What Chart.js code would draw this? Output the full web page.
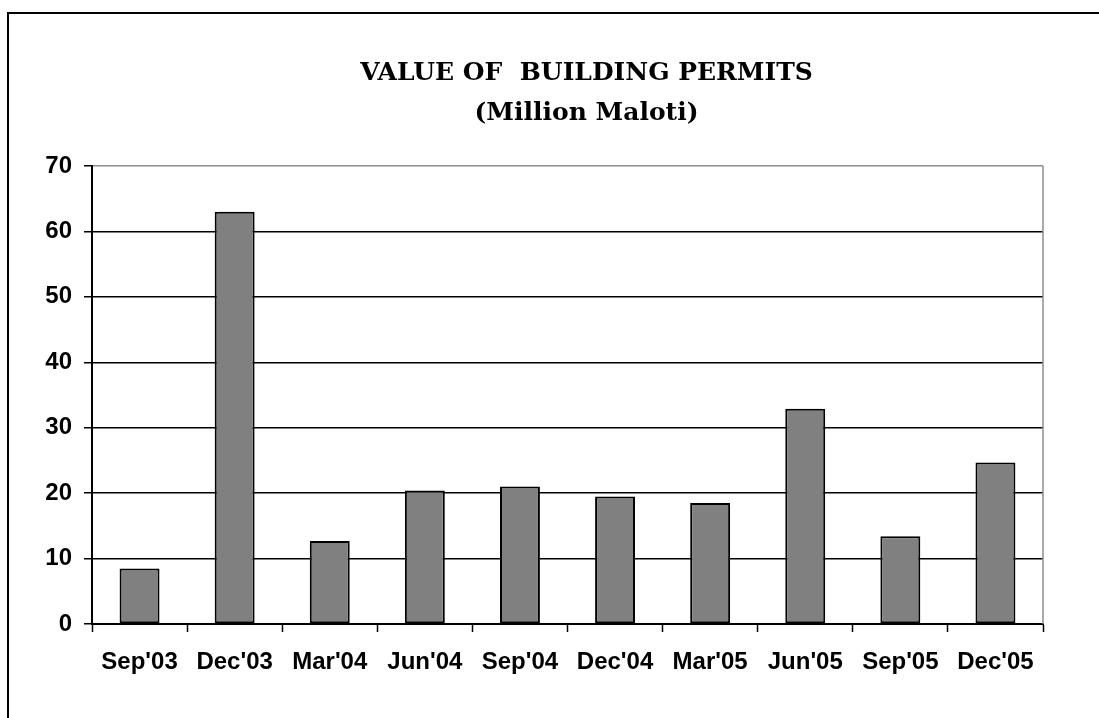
<!DOCTYPE html>
<html>
<head>
<meta charset="utf-8">
<script src="https://cdn.jsdelivr.net/npm/chart.js@4/dist/chart.umd.min.js"></script>
<style>
  html, body { margin: 0; padding: 0; background: #fff; overflow: hidden; }
  #frame {
    position: absolute; left: 7px; top: 12px; width: 1200px; height: 800px;
    border-left: 2px solid #000; border-top: 2px solid #000;
  }
  #wrap { position: absolute; left: 0; top: 0; width: 1099px; height: 718px; }
</style>
</head>
<body>
<div id="frame"></div>
<div id="wrap"><canvas id="permitsChart"></canvas></div>
<script>
// quarterly value of building permits, million maloti
const quarters = ["Sep'03", "Dec'03", "Mar'04", "Jun'04", "Sep'04", "Dec'04", "Mar'05", "Jun'05", "Sep'05", "Dec'05"];
const permitValues = [8.5, 63.0, 12.7, 20.4, 21.0, 19.5, 18.5, 32.9, 13.4, 24.7];
const titleLines = ["VALUE OF  BUILDING PERMITS", "(Million Maloti)"];
const yMin = 0;
const yMax = 70;
const yStep = 10;

// title sits a little right of the plot centre, so it is drawn by hand
const chartTitle = {
  id: "chartTitle",
  afterDraw(chart) {
    const { ctx, chartArea } = chart;
    const cx = (chartArea.left + chartArea.right) / 2 + 19;
    ctx.save();
    ctx.fillStyle = "#000";
    ctx.font = "bold 25px 'DejaVu Serif', serif";
    ctx.textAlign = "center";
    ctx.textBaseline = "alphabetic";
    ctx.fillText(titleLines[0], cx, 80);
    ctx.fillText(titleLines[1], cx, 120);
    ctx.restore();
  },
};

// grey line on the right side of the plot, like the top gridline
const plotEdge = {
  id: "plotEdge",
  afterDraw(chart) {
    const { ctx, chartArea } = chart;
    ctx.save();
    ctx.strokeStyle = "#8c8c8c";
    ctx.lineWidth = 1.5;
    ctx.beginPath();
    ctx.moveTo(chartArea.right, chartArea.top);
    ctx.lineTo(chartArea.right, chartArea.bottom);
    ctx.stroke();
    ctx.restore();
  },
};

const labelFont = { family: "'Liberation Sans', Arial, sans-serif", size: 24, weight: "bold" };

new Chart(document.getElementById("permitsChart"), {
  type: "bar",
  data: {
    labels: quarters,
    datasets: [
      {
        label: "Value of building permits",
        data: permitValues,
        backgroundColor: "#808080",
        borderColor: "#000",
        borderWidth: 2,
        borderSkipped: false,
        categoryPercentage: 1,
        barPercentage: 0.42,
      },
    ],
  },
  options: {
    responsive: true,
    maintainAspectRatio: false,
    animation: false,
    layout: { padding: { left: 0, right: 56, top: 166, bottom: 0 } },
    plugins: {
      legend: { display: false },
      tooltip: { enabled: false },
      title: { display: false },
    },
    scales: {
      x: {
        offset: true,
        grid: {
          offset: true,
          drawOnChartArea: false,
          drawTicks: true,
          tickLength: 8,
          tickColor: "#000",
          tickWidth: 1.5,
        },
        border: { color: "#000", width: 2 },
        ticks: { color: "#000", font: labelFont, padding: 16, maxRotation: 0, autoSkip: false },
        afterFit(scale) {
          scale.height = 94;
        },
      },
      y: {
        min: yMin,
        max: yMax,
        grid: {
          color: (c) => (c.tick && c.tick.value === yMax ? "#8c8c8c" : "#000"),
          lineWidth: 1.5,
          tickLength: 8,
          tickColor: "#000",
          tickWidth: 1.5,
        },
        border: { color: "#000", width: 2 },
        ticks: { stepSize: yStep, color: "#000", font: labelFont, padding: 12 },
        afterFit(scale) {
          scale.width = 92;
        },
      },
    },
  },
  plugins: [plotEdge, chartTitle],
});
</script>
</body>
</html>
